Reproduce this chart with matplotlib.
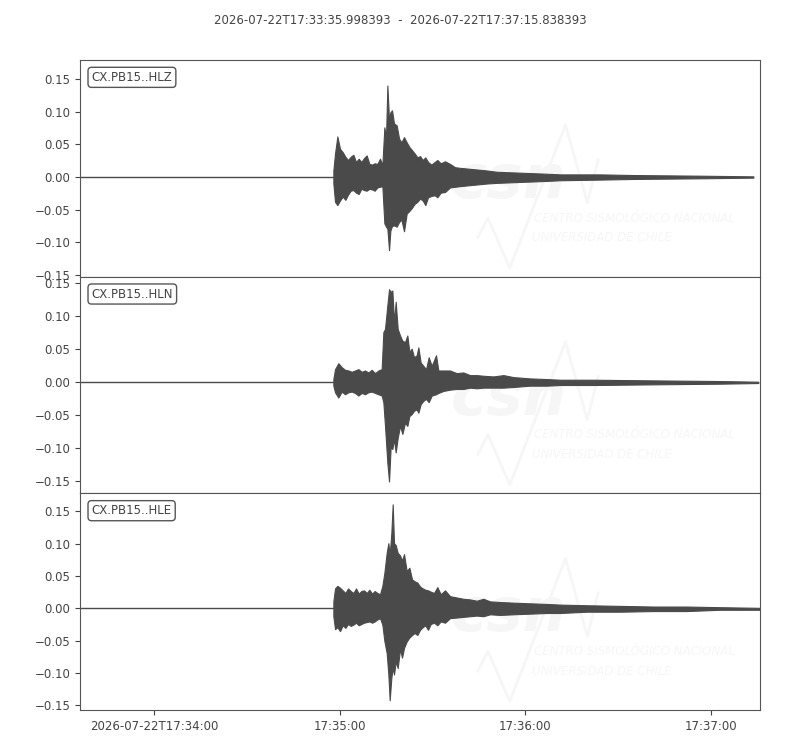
import numpy as np
import matplotlib
matplotlib.use('Agg')
import matplotlib.pyplot as plt

#####
# Data (seconds after 2026-07-22T17:33:35.998393, amplitude envelope)
#####

title_text = '2026-07-22T17:33:35.998393  -  2026-07-22T17:37:15.838393'
trace_ids = ['CX.PB15..HLZ', 'CX.PB15..HLN', 'CX.PB15..HLE']
duration = 219.84

onset = [81.91, 81.91, 81.91]

hlz_t = [81.91, 82.45, 83.20, 84.06, 84.93, 85.79, 86.65, 87.51, 88.37, 89.24, 90.10, 90.96,
         91.82, 92.68, 93.55, 94.41, 95.27, 96.13, 96.99, 97.75, 98.40, 98.94, 99.37, 99.91,
         100.34, 100.87, 101.52, 102.38, 103.14, 103.89, 104.75, 105.62, 106.48, 107.34, 108.20,
         109.07, 109.93, 110.79, 111.65, 112.51, 113.59, 114.67, 115.53, 116.61, 118.01, 119.63,
         121.24, 122.86, 125.02, 127.17, 129.33, 131.48, 134.72, 140.10, 145.49, 150.88, 155.19,
         168.0, 178.9, 200.5, 217.7]
hlz_up = [0.010, 0.036, 0.062, 0.043, 0.038, 0.031, 0.026, 0.031, 0.034, 0.023, 0.028, 0.023,
          0.029, 0.033, 0.020, 0.019, 0.021, 0.020, 0.028, 0.018, 0.076, 0.061, 0.140, 0.087,
          0.099, 0.102, 0.082, 0.079, 0.059, 0.053, 0.061, 0.053, 0.046, 0.041, 0.036,
          0.030, 0.032, 0.026, 0.030, 0.023, 0.019, 0.023, 0.026, 0.021, 0.024, 0.020,
          0.015, 0.014, 0.013, 0.012, 0.011, 0.010, 0.008, 0.007, 0.006, 0.005, 0.004,
          0.004, 0.003, 0.002, 0.001]
hlz_low = [-0.010, -0.038, -0.043, -0.036, -0.030, -0.035, -0.027, -0.021, -0.020, -0.024, -0.026,
           -0.018, -0.020, -0.021, -0.018, -0.019, -0.021, -0.016, -0.015, -0.014, -0.071, -0.076,
           -0.079, -0.112, -0.082, -0.075, -0.074, -0.076, -0.069, -0.065, -0.083, -0.056, -0.052,
           -0.047, -0.041, -0.038, -0.033, -0.036, -0.043, -0.031, -0.029, -0.028, -0.031, -0.024,
           -0.023, -0.016, -0.015, -0.014, -0.013, -0.012, -0.011, -0.010, -0.009, -0.008, -0.007,
           -0.006, -0.005, -0.004, -0.003, -0.002, -0.001]

hln_t = [81.91, 82.45, 83.52, 84.60, 85.68, 86.76, 87.83, 88.91, 89.99, 91.07, 92.15, 93.22,
         94.30, 95.38, 96.46, 97.53, 98.07, 98.61, 99.37, 99.91, 100.44, 100.98, 101.52, 102.06,
         102.71, 103.46, 104.22, 105.08, 105.83, 106.48, 107.23, 107.99, 108.85, 109.39, 110.14,
         111.01, 111.87, 112.73, 113.70, 115.10, 115.86, 117.47, 119.63, 121.78, 123.94, 126.09,
         128.25, 130.40, 133.64, 136.87, 140.10, 145.49, 150.88, 155.19, 166.0, 185.4, 206.9,
         219.3]
hln_up = [0.005, 0.020, 0.029, 0.023, 0.019, 0.018, 0.016, 0.018, 0.020, 0.016, 0.018, 0.015,
          0.019, 0.014, 0.018, 0.020, 0.076, 0.081, 0.117, 0.141, 0.137, 0.139, 0.091, 0.122,
          0.081, 0.071, 0.063, 0.061, 0.071, 0.046, 0.051, 0.038, 0.041, 0.053, 0.030,
          0.025, 0.020, 0.038, 0.025, 0.041, 0.018, 0.018, 0.018, 0.014, 0.015, 0.011,
          0.011, 0.010, 0.009, 0.011, 0.008, 0.006, 0.005, 0.004, 0.004, 0.003, 0.002,
          0.001]
hln_low = [-0.005, -0.015, -0.023, -0.014, -0.018, -0.015, -0.014, -0.016, -0.020, -0.016, -0.018,
           -0.015, -0.014, -0.016, -0.018, -0.020, -0.030, -0.066, -0.122, -0.150, -0.097, -0.101,
           -0.086, -0.106, -0.084, -0.066, -0.078, -0.061, -0.066, -0.051, -0.048, -0.043, -0.041,
           -0.046, -0.033, -0.028, -0.025, -0.030, -0.020, -0.018, -0.016, -0.013, -0.011, -0.010,
           -0.010, -0.008, -0.009, -0.008, -0.008, -0.008, -0.007, -0.005, -0.005, -0.004, -0.004,
           -0.003, -0.002, -0.001]

hle_t = [81.91, 82.45, 83.20, 84.06, 84.93, 85.79, 86.65, 87.51, 88.37, 89.24, 90.10, 90.96,
         91.82, 92.68, 93.55, 94.41, 95.27, 96.13, 96.99, 97.75, 98.40, 99.15, 99.69, 100.12,
         100.66, 101.09, 101.52, 102.06, 102.71, 103.46, 104.11, 104.75, 105.62, 106.48, 107.34,
         108.20, 109.07, 109.93, 110.79, 111.65, 112.51, 113.38, 114.45, 115.53, 116.61, 118.01,
         119.63, 121.78, 123.94, 126.09, 128.25, 130.40, 132.56, 135.79, 140.10, 145.49, 150.88,
         155.19, 163.8, 174.6, 185.4, 196.1, 206.9, 219.8]
hle_up = [0.011, 0.031, 0.035, 0.032, 0.028, 0.024, 0.031, 0.027, 0.024, 0.031, 0.023, 0.027,
          0.028, 0.024, 0.029, 0.023, 0.027, 0.024, 0.022, 0.035, 0.055, 0.086, 0.101, 0.083,
          0.117, 0.161, 0.101, 0.098, 0.086, 0.082, 0.074, 0.084, 0.058, 0.063, 0.045,
          0.042, 0.040, 0.034, 0.031, 0.029, 0.028, 0.026, 0.024, 0.033, 0.022, 0.028,
          0.019, 0.017, 0.015, 0.014, 0.012, 0.015, 0.011, 0.010, 0.009, 0.008, 0.007,
          0.006, 0.005, 0.004, 0.003, 0.003, 0.002, 0.001]
hle_low = [-0.012, -0.032, -0.029, -0.035, -0.026, -0.030, -0.024, -0.027, -0.025, -0.022, -0.026,
           -0.024, -0.022, -0.021, -0.020, -0.022, -0.020, -0.017, -0.015, -0.025, -0.050, -0.069,
           -0.102, -0.142, -0.107, -0.092, -0.102, -0.082, -0.092, -0.063, -0.076, -0.061, -0.051,
           -0.045, -0.041, -0.038, -0.041, -0.033, -0.029, -0.026, -0.033, -0.024, -0.022, -0.026,
           -0.020, -0.022, -0.015, -0.014, -0.013, -0.012, -0.011, -0.012, -0.009, -0.010, -0.009,
           -0.008, -0.007, -0.007, -0.005, -0.005, -0.004, -0.004, -0.002, -0.002]

y_limits = [(-0.1525, 0.179), (-0.168, 0.160), (-0.157, 0.178)]
y_ticks = [-0.15, -0.10, -0.05, 0.00, 0.05, 0.10, 0.15]

x_tick_pos = [24.0016, 84.0016, 144.0016, 204.0016]
x_tick_labels = ['2026-07-22T17:34:00', '17:35:00', '17:36:00', '17:37:00']

#####
# Plot
#####

trace_color = '#4a4a4a'
text_color = '#444444'
mark_color = '#f6f6f6'   # watermark, almost white

plt.rcParams['font.family'] = 'DejaVu Sans'
plt.rcParams['text.color'] = text_color
plt.rcParams['xtick.color'] = text_color
plt.rcParams['ytick.color'] = text_color
plt.rcParams['axes.edgecolor'] = '#555555'

fig, axes = plt.subplots(3, 1, figsize=(8, 7.5), dpi=100, sharex=True)
fig.subplots_adjust(left=0.1, right=0.95, top=0.92, bottom=0.0533, hspace=0)
fig.suptitle(title_text, y=0.982, fontsize=8.5, color=text_color)

series = [(hlz_t, hlz_up, hlz_low), (hln_t, hln_up, hln_low), (hle_t, hle_up, hle_low)]

for i, ax in enumerate(axes):
    t, up, low = series[i]

    # watermark logo (CSN)
    ax.text(0.63, 0.44, 'csn', transform=ax.transAxes, fontsize=44, fontweight='bold',
            fontstyle='italic', color=mark_color, ha='center', va='center', zorder=0)
    ax.plot([0.585, 0.6, 0.632, 0.714, 0.746, 0.762], [0.18, 0.27, 0.04, 0.70, 0.34, 0.54],
            transform=ax.transAxes, color=mark_color, lw=2, zorder=0)
    ax.text(0.667, 0.27, 'CENTRO SISMOLÓGICO NACIONAL', transform=ax.transAxes, fontsize=8.5,
            fontstyle='italic', color=mark_color, ha='left', va='center', zorder=0)
    ax.text(0.664, 0.18, 'UNIVERSIDAD DE CHILE', transform=ax.transAxes, fontsize=8.5,
            fontstyle='italic', color=mark_color, ha='left', va='center', zorder=0)

    # flat part before the event, then the waveform envelope
    ax.plot([0, onset[i]], [0, 0], color=trace_color, lw=1)
    ax.fill_between(t, low, up, color=trace_color, lw=0.8, edgecolor=trace_color)

    ax.set_ylim(y_limits[i])
    ax.set_yticks(y_ticks)
    ax.set_yticklabels(['%.2f' % v if v >= 0 else '\u2212%.2f' % -v for v in y_ticks])
    ax.tick_params(axis='y', labelsize=8.5, direction='out', length=3.5)
    ax.tick_params(axis='x', labelsize=8.5, direction='out', length=3.5)
    ax.text(0.017, 0.92, trace_ids[i], transform=ax.transAxes, fontsize=8.5, va='center',
            ha='left', color=text_color,
            bbox=dict(boxstyle='round,pad=0.3', facecolor='white', edgecolor='#555555', lw=1))

for ax in axes[:-1]:
    ax.tick_params(axis='x', length=0)

axes[-1].set_xlim(0, duration)
axes[-1].set_xticks(x_tick_pos)
axes[-1].set_xticklabels(x_tick_labels)

plt.savefig('out.png', dpi=100)
